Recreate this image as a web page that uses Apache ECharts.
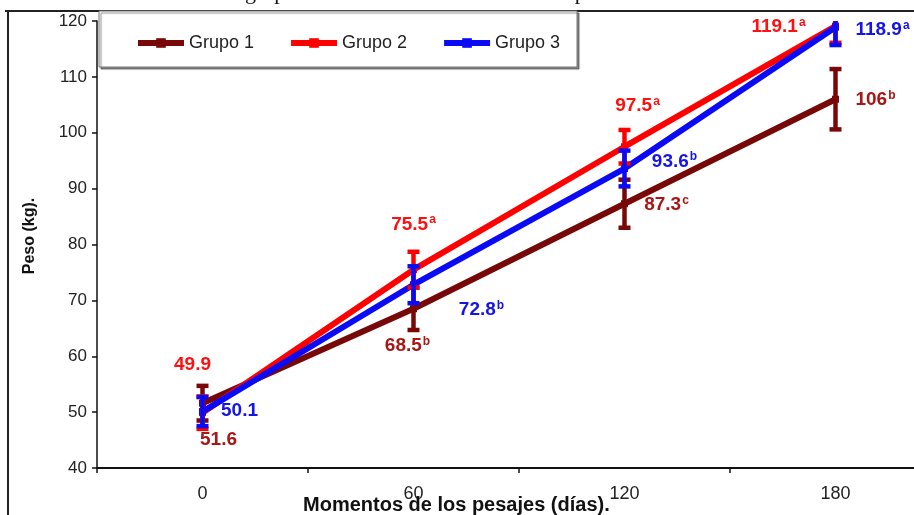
<!DOCTYPE html>
<html>
<head>
<meta charset="utf-8">
<script src="https://cdn.jsdelivr.net/npm/echarts@6/dist/echarts.min.js"></script>
<style>
html,body{margin:0;padding:0;background:#fff;}
#chart{width:914px;height:515px;}
</style>
</head>
<body>
<div id="chart"></div>
<script>
// ---- data ----
const categories = ['0', '60', '120', '180'];
const seriesNames = ['Grupo 1', 'Grupo 2', 'Grupo 3'];
const grupo1 = [51.6, 68.5, 87.3, 106];
const grupo2 = [49.9, 75.5, 97.5, 119.1];
const grupo3 = [50.1, 72.8, 93.6, 118.9];
const err1 = [3.1, 3.8, 4.3, 5.4];
const err2 = [2.9, 3.2, 3.0, 3.0];
const err3 = [2.6, 3.3, 3.2, 3.2];
const letters1 = ['', 'b', 'c', 'b'];
const letters2 = ['', 'a', 'a', 'a'];
const letters3 = ['', 'b', 'b', 'a'];
const yMin = 40, yMax = 120, yStep = 10;

// ---- styles ----
const lineColors = ['#780808', '#FF0000', '#0A0AF5'];
const labelColors = ['#A81616', '#FF1010', '#1414E6'];
// label offsets (px) from each point, per series
const labelOffsets = [
  [[16, 37], [-6, 37], [42, 1], [40, 1]],
  [[-10, -48], [0, -45], [13, -41], [-57, 1]],
  [[37, -1], [68, 25], [50, -7], [47, 3]]
];

const chart = echarts.init(document.getElementById('chart'));

function lineSeries(idx, values, letters) {
  return {
    name: seriesNames[idx],
    type: 'line',
    z: 2 + idx,
    clip: false,
    data: values.map((v, i) => ({
      value: v,
      label: {
        show: true,
        position: 'inside',
        offset: labelOffsets[idx][i],
        formatter: letters[i] ? '{n|' + v + '}{s|' + letters[i] + '}' : '{n|' + v + '}',
        rich: {
          n: {fontSize: 19, fontWeight: 'bold', color: labelColors[idx], fontFamily: 'Liberation Sans'},
          s: {fontSize: 12, fontWeight: 'bold', color: labelColors[idx], fontFamily: 'Liberation Sans', verticalAlign: 'top', padding: [0, 0, 9, 1]}
        }
      }
    })),
    symbol: 'rect',
    symbolSize: 7,
    lineStyle: {width: 6, color: lineColors[idx]},
    itemStyle: {color: lineColors[idx]},
    emphasis: {disabled: true}
  };
}

function errSeries(idx, values, errs) {
  return {
    type: 'custom',
    name: seriesNames[idx] + ' err',
    z: 10 + idx,
    silent: true,
    data: values.map((v, i) => [i, v, errs[i]]),
    renderItem: function (params, api) {
      const i = api.value(0), v = api.value(1), e = api.value(2);
      const hiV = Math.min(v + e, yMax), loV = Math.max(v - e, yMin);
      const hi = api.coord([i, hiV]);
      const lo = api.coord([i, loV]);
      const cw = 6;
      const children = [{
        type: 'line', shape: {x1: hi[0], y1: hi[1], x2: lo[0], y2: lo[1]},
        style: {stroke: lineColors[idx], lineWidth: 4.5}
      }];
      if (v + e <= yMax) children.push({
        type: 'line', shape: {x1: hi[0] - cw, y1: hi[1], x2: hi[0] + cw, y2: hi[1]},
        style: {stroke: lineColors[idx], lineWidth: 4.5}
      });
      children.push({
        type: 'line', shape: {x1: lo[0] - cw, y1: lo[1], x2: lo[0] + cw, y2: lo[1]},
        style: {stroke: lineColors[idx], lineWidth: 4.5}
      });
      return {type: 'group', children: children};
    }
  };
}

const option = {
  animation: false,
  backgroundColor: '#fff',
  grid: {left: 97, right: -27, top: 21, bottom: 47, containLabel: false, outerBoundsMode: 'none'},
  legend: {
    data: seriesNames,
    left: 130, top: 29,
    itemWidth: 46, itemHeight: 12, itemGap: 34,
    lineStyle: {width: 6},
    textStyle: {fontSize: 18, color: '#222', fontFamily: 'Liberation Sans'},
    z: 20
  },
  xAxis: {
    type: 'category',
    data: categories,
    boundaryGap: true,
    axisLine: {lineStyle: {color: '#111', width: 2}},
    axisTick: {show: true, length: 5, inside: false, lineStyle: {color: '#111', width: 1.5}},
    axisLabel: {fontSize: 18, color: '#222', margin: 17, fontFamily: 'Liberation Sans'},
    splitLine: {show: false}
  },
  yAxis: {
    type: 'value',
    min: yMin, max: yMax, interval: yStep,
    axisLine: {show: true, lineStyle: {color: '#111', width: 1.5}},
    axisTick: {show: true, length: 5, lineStyle: {color: '#111', width: 1.5}},
    axisLabel: {fontSize: 17, color: '#222', margin: 10, fontFamily: 'Liberation Sans'},
    splitLine: {show: false}
  },
  graphic: [
    {type: 'text', left: 245, top: -18, z: 1,
     style: {text: 'grupos de cerdos lactantes durante el periodo de estudio.', font: '22px "Liberation Serif"', fill: '#111'}},
    {type: 'line', shape: {x1: 5, y1: 11, x2: 914, y2: 11}, style: {stroke: '#222', lineWidth: 2}, z: 1},
    {type: 'line', shape: {x1: 8, y1: 11, x2: 8, y2: 515}, style: {stroke: '#222', lineWidth: 2}, z: 1},
    {type: 'rect', shape: {x: 99, y: 11, width: 478, height: 56},
     style: {fill: '#fff', stroke: '#777', lineWidth: 1, shadowColor: 'rgba(0,0,0,0.45)', shadowOffsetX: 2, shadowOffsetY: 2, shadowBlur: 1}, z: 5},
    {type: 'text', x: 30, y: 236, rotation: Math.PI / 2, z: 1,
     style: {text: 'Peso (kg).', font: 'bold 16px "Liberation Sans"', fill: '#111', align: 'center', verticalAlign: 'middle'}},
    {type: 'text', left: 303, top: 495, z: 1,
     style: {text: 'Momentos de los pesajes (días).', font: 'bold 20px "Liberation Sans"', fill: '#111'}}
  ],
  series: [
    lineSeries(0, grupo1, letters1),
    lineSeries(1, grupo2, letters2),
    lineSeries(2, grupo3, letters3),
    errSeries(0, grupo1, err1),
    errSeries(1, grupo2, err2),
    errSeries(2, grupo3, err3)
  ]
};
chart.setOption(option);
</script>
</body>
</html>
